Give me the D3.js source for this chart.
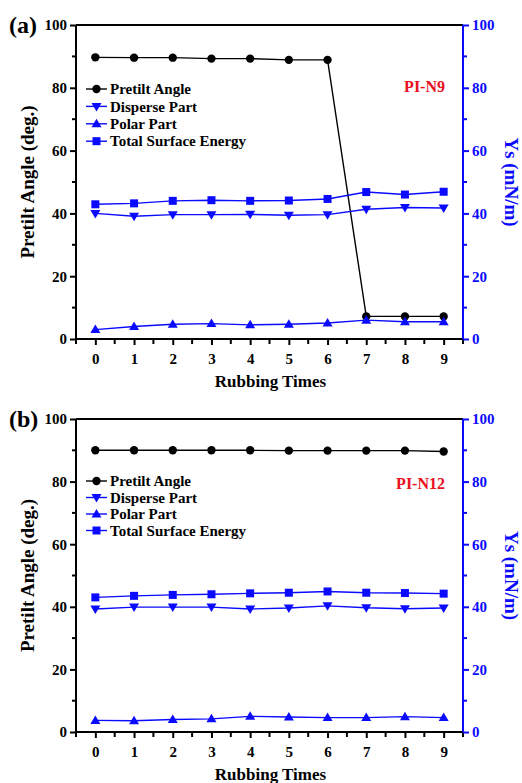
<!DOCTYPE html>
<meta charset="utf-8">
<script src="https://d3js.org/d3.v7.min.js"></script>
<style>
  body { margin: 0; background: #fff; }
  svg text { font-family: 'Liberation Serif', 'Times New Roman', Times, 'DejaVu Serif', serif !important; font-weight: bold; }
</style>
<div id="chart"></div>
<script>
  // rubbing times on the x axis
  var rubbing = [0, 1, 2, 3, 4, 5, 6, 7, 8, 9];
  var xTicks = [0, 1, 2, 3, 4, 5, 6, 7, 8, 9];
  var yTicks = [0, 20, 40, 60, 80, 100];

  // panel (a) PI-N9
  var pretiltA  = [89.7, 89.6, 89.6, 89.3, 89.3, 88.9, 88.9, 7.2, 7.2, 7.2];
  var disperseA = [40.0, 39.1, 39.6, 39.6, 39.7, 39.4, 39.6, 41.3, 41.9, 41.7];
  var polarA    = [3.0, 4.0, 4.7, 4.9, 4.5, 4.7, 5.1, 6.0, 5.5, 5.5];
  var totalA    = [42.9, 43.2, 44.0, 44.2, 44.0, 44.1, 44.6, 46.8, 46.0, 46.9];

  // panel (b) PI-N12
  var pretiltB  = [90.0, 90.0, 90.0, 90.0, 90.0, 89.9, 89.9, 89.9, 89.9, 89.6];
  var disperseB = [39.3, 39.9, 39.9, 39.9, 39.3, 39.6, 40.3, 39.7, 39.4, 39.6];
  var polarB    = [3.7, 3.6, 4.0, 4.2, 5.0, 4.8, 4.6, 4.6, 4.9, 4.6];
  var totalB    = [43.0, 43.5, 43.8, 44.0, 44.3, 44.5, 44.9, 44.5, 44.4, 44.2];

  var seriesNames = ["Pretilt Angle", "Disperse Part", "Polar Part", "Total Surface Energy"];

  var blue = "#0a0aff", red = "#e8101c";
  var serif = "'Liberation Serif', 'Times New Roman', Times, serif";

  var W = 522, H = 783;
  var svg = d3.select("#chart").append("svg")
    .attr("width", W).attr("height", H)
    .attr("font-family", serif).attr("font-weight", "bold");

  var left = 76, right = 463;

  var x = d3.scaleLinear().domain([-0.5, 9.5]).range([left, right]);

  function drawPanel(top, bottom, tag, name, series, legendY, legendStep, nameY) {
    var y = d3.scaleLinear().domain([0, 100]).range([bottom, top]);
    var g = svg.append("g");

    // frame
    g.append("line").attr("x1", left).attr("x2", right).attr("y1", top).attr("y2", top)
      .attr("stroke", "#000").attr("stroke-width", 2);

    // bottom axis
    var xb = g.append("g").attr("transform", "translate(0," + bottom + ")")
      .call(d3.axisBottom(x).tickValues(xTicks).tickSize(6).tickFormat(d3.format("d")));
    xb.append("g").selectAll("line").data(d3.range(-0.5, 9.6, 1)).enter().append("line")
      .attr("x1", d => x(d)).attr("x2", d => x(d)).attr("y1", 0).attr("y2", 5)
      .attr("stroke", "#000").attr("stroke-width", 2);

    // left axis
    var yl = g.append("g").attr("transform", "translate(" + left + ",0)")
      .call(d3.axisLeft(y).tickValues(yTicks).tickSize(6));
    yl.append("g").selectAll("line").data(d3.range(10, 100, 20)).enter().append("line")
      .attr("x1", 0).attr("x2", -4).attr("y1", d => y(d)).attr("y2", d => y(d))
      .attr("stroke", "#000").attr("stroke-width", 2);

    // right axis
    var yr = g.append("g").attr("transform", "translate(" + right + ",0)")
      .call(d3.axisRight(y).tickValues(yTicks).tickSize(6));
    yr.append("g").selectAll("line").data(d3.range(10, 100, 20)).enter().append("line")
      .attr("x1", 0).attr("x2", 4).attr("y1", d => y(d)).attr("y2", d => y(d))
      .attr("stroke", blue).attr("stroke-width", 2);

    [xb, yl, yr].forEach(function(a) {
      a.attr("font-family", serif).attr("font-size", 15);
      a.select(".domain").attr("stroke-width", 2);
      a.selectAll(".tick line").attr("stroke-width", 2);
    });
    xb.selectAll(".tick text").attr("dy", "1.05em");
    yl.selectAll(".tick text").attr("x", -9);
    yr.selectAll(".domain, .tick line").attr("stroke", blue);
    yr.selectAll(".tick text").attr("fill", blue).attr("x", 9);
    xb.select(".domain").attr("d", "M" + left + ",0H" + right);
    yl.select(".domain").attr("d", "M0," + bottom + "V" + top);
    yr.select(".domain").attr("d", "M0," + bottom + "V" + top);

    // titles
    g.append("text").attr("x", 9).attr("y", top + 8).attr("font-size", 24).text(tag);
    g.append("text").attr("transform", "translate(34," + ((top + bottom) / 2) + ") rotate(-90)")
      .attr("text-anchor", "middle").attr("font-size", 19).text("Pretilt Angle (deg.)");
    g.append("text").attr("transform", "translate(505," + ((top + bottom) / 2) + ") rotate(90)")
      .attr("text-anchor", "middle").attr("font-size", 19).attr("fill", blue).text("Ys (mN/m)");
    g.append("text").attr("x", (left + right) / 2 + 1).attr("y", bottom + 48)
      .attr("text-anchor", "middle").attr("font-size", 17).text("Rubbing Times");
    g.append("text").attr("x", 445).attr("y", nameY).attr("text-anchor", "end")
      .attr("font-size", 16).attr("fill", red).text(name);

    // lines and markers
    var symbols = ["circle", "down", "up", "square"];
    function marker(sel, kind, color) {
      if (kind === "circle") {
        sel.append("circle").attr("r", 4.2).attr("fill", color);
      } else if (kind === "square") {
        sel.append("rect").attr("x", -4).attr("y", -4).attr("width", 8).attr("height", 8).attr("fill", color);
      } else {
        var s = kind === "down" ? 1 : -1;
        sel.append("path").attr("d", "M-5," + (-3.5 * s) + "L5," + (-3.5 * s) + "L0," + (5 * s) + "Z").attr("fill", color);
      }
    }
    var line = d3.line().x((d, i) => x(rubbing[i])).y(d => y(d));
    series.forEach(function(vals, k) {
      var color = k === 0 ? "#000" : blue;
      g.append("path").datum(vals).attr("d", line).attr("fill", "none")
        .attr("stroke", color).attr("stroke-width", 1.4);
      g.selectAll(null).data(vals).enter().append("g")
        .attr("transform", (d, i) => "translate(" + x(rubbing[i]) + "," + y(d) + ")")
        .each(function() { marker(d3.select(this), symbols[k], color); });
    });

    // legend
    seriesNames.forEach(function(n, k) {
      var color = k === 0 ? "#000" : blue;
      var ly = legendY + k * legendStep;
      g.append("line").attr("x1", 86).attr("x2", 107).attr("y1", ly).attr("y2", ly)
        .attr("stroke", color).attr("stroke-width", 1.4);
      marker(g.append("g").attr("transform", "translate(96.5," + ly + ")"), symbols[k], color);
      g.append("text").attr("x", 110).attr("y", ly).attr("dy", "0.35em")
        .attr("font-size", 15).text(n);
    });
  }

  drawPanel(25, 339, "(a)", "PI-N9", [pretiltA, disperseA, polarA, totalA], 89, 17.4, 92);
  drawPanel(419, 732, "(b)", "PI-N12", [pretiltB, disperseB, polarB, totalB], 481, 16.5, 489);
</script>
